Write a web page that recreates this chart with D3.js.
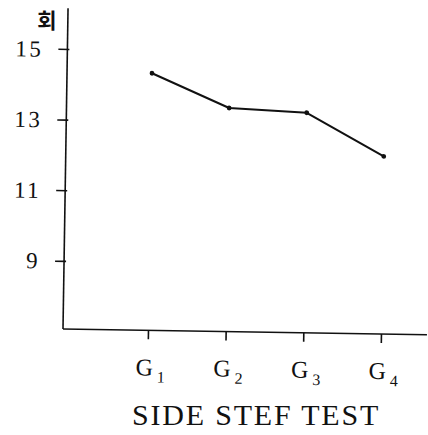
<!DOCTYPE html>
<html>
<head>
<meta charset="utf-8">
<script src="https://cdn.jsdelivr.net/npm/d3@7"></script>
<style>
  html, body { margin: 0; padding: 0; background: #fff; }
  svg { display: block; }
  text { font-family: "Liberation Serif", "DejaVu Serif", serif; fill: #111; }
</style>
</head>
<body>
<svg id="chart" width="428" height="435"></svg>
<script>
// Side step test: mean count per group
const groups = ["G1", "G2", "G3", "G4"];
const groupSubs = ["1", "2", "3", "4"];
const counts = [14.35, 13.4, 13.3, 12.1];
const yTicks = [9, 11, 13, 15];
const unitLabel = "회";
const title = "SIDE STEF TEST";

const svg = d3.select("#chart");
const ink = "#111";

// Plot frame: origin at the axes corner, tilted slightly like the printed figure
const plot = svg.append("g")
  .attr("transform", "translate(63,329) rotate(0.9)");

const x = d3.scalePoint().domain(groups).range([85, 318]);
const y = d3.scaleLinear().domain([7.07, 16.15]).range([0, -320.7]);
const xEnd = 364;

// Y axis
const yAxis = plot.append("g")
  .call(d3.axisLeft(y).tickValues(yTicks).tickSize(9).tickSizeOuter(0).tickFormat(d3.format("d")));
yAxis.select(".domain").attr("stroke", ink).attr("stroke-width", 1.6)
  .attr("d", `M0,0V${y.range()[1]}`);
yAxis.selectAll(".tick line").attr("stroke", ink).attr("stroke-width", 1.6).attr("x1", 2);
yAxis.selectAll(".tick text")
  .attr("x", -24).attr("dy", "0.33em")
  .style("font-size", "23px").style("letter-spacing", "2.5px")
  .attr("fill", ink);

// X axis
const xAxis = plot.append("g")
  .call(d3.axisBottom(x).tickSize(9).tickSizeOuter(0).tickFormat(""));
xAxis.select(".domain").attr("stroke", ink).attr("stroke-width", 1.6)
  .attr("d", `M0,0H${xEnd}`);
xAxis.selectAll(".tick line").attr("stroke", ink).attr("stroke-width", 1.6);

// Group labels with subscript index
const xl = plot.append("g").selectAll("text")
  .data(groups)
  .join("text")
  .attr("x", d => x(d) + 3)
  .attr("y", 45)
  .attr("text-anchor", "middle")
  .style("font-size", "24px");
xl.append("tspan").text("G");
xl.append("tspan")
  .attr("dx", 4)
  .attr("dy", 7)
  .style("font-size", "16px")
  .text((d, i) => groupSubs[i]);

// Line
const line = d3.line().x((d, i) => x(groups[i])).y(d => y(d));
plot.append("path")
  .datum(counts)
  .attr("d", line)
  .attr("fill", "none")
  .attr("stroke", ink)
  .attr("stroke-width", 2)
  .attr("stroke-linejoin", "round");

plot.selectAll("circle.pt")
  .data(counts)
  .join("circle")
  .attr("class", "pt")
  .attr("cx", (d, i) => x(groups[i]))
  .attr("cy", d => y(d))
  .attr("r", 2.4)
  .attr("fill", ink);

// Unit label
svg.append("text")
  .attr("x", 47).attr("y", 28)
  .attr("text-anchor", "middle")
  .style("font-family", "'Noto Sans CJK KR', sans-serif")
  .style("font-size", "21px")
  .style("font-weight", "bold")
  .text(unitLabel);

// Title
svg.append("text")
  .attr("x", 132).attr("y", 425)
  .style("font-size", "30px")
  .style("letter-spacing", "1.8px")
  .text(title);
</script>
</body>
</html>
